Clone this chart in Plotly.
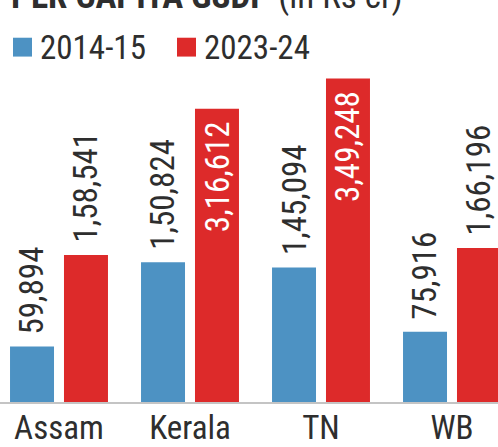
import plotly.graph_objects as go

categories = ["Assam", "Kerala", "TN", "WB"]
series_names = ["2014-15", "2023-24"]
values_2014_15 = [59894, 150824, 145094, 75916]
values_2023_24 = [158541, 316612, 349248, 166196]
label_2014_15 = ["59,894", "1,50,824", "1,45,094", "75,916"]
label_2023_24 = ["1,58,541", "3,16,612", "3,49,248", "1,66,196"]

title_bold = "PER CAPITA GSDP"
title_unit = "(in Rs cr)"

BLUE = "#4d92c3"
RED = "#dd2a2a"
TEXT = "#2e2e2e"
FONT = "Roboto Condensed, Liberation Sans Narrow, Roboto, sans-serif"

W, H = 498, 447
PLOT_BOTTOM = 405  # px
SLOT = 27  # px offset of each bar from group centre
GROUP = 131  # px between category centres
FIRST = 59  # px of first category centre

fig = go.Figure()
fig.add_trace(go.Bar(x=categories, y=values_2014_15, name=series_names[0],
                     marker=dict(color=BLUE, line=dict(width=0)), showlegend=False,
                     hoverinfo="skip"))
fig.add_trace(go.Bar(x=categories, y=values_2023_24, name=series_names[1],
                     marker=dict(color=RED, line=dict(width=0)), showlegend=False,
                     hoverinfo="skip"))

annotations = []
vmax = max(values_2023_24 + values_2014_15)
for series, labels, shift in ((values_2014_15, label_2014_15, -SLOT),
                              (values_2023_24, label_2023_24, SLOT)):
    for cat, v, lab in zip(categories, series, labels):
        inside = v > 0.8 * vmax
        annotations.append(dict(
            x=cat, y=v, xref="x", yref="y", text=lab, showarrow=False,
            textangle=-90, xshift=shift,
            yanchor="top" if inside else "bottom",
            yshift=-11 if inside else 10,
            font=dict(family=FONT, size=33, color="white" if inside else TEXT),
        ))

def py(p):
    """page y pixel -> paper coordinate"""
    return (PLOT_BOTTOM - p) / PLOT_BOTTOM

def px(p):
    return p / W

# title (cropped at top in the reference)
annotations.append(dict(
    x=px(9), y=py(-4), xref="paper", yref="paper",
    xanchor="left", yanchor="middle", showarrow=False,
    text=f"<b>{title_bold}</b> {title_unit}",
    font=dict(family=FONT, size=35, color=TEXT),
))

# legend built from shapes + labels
shapes = []
legend_x = [(13, 38), (177, 202)]
for (sx, tx), name, col in zip(legend_x, series_names, [BLUE, RED]):
    shapes.append(dict(type="rect", xref="paper", yref="paper",
                       x0=px(sx), x1=px(sx + 19),
                       y0=py(57), y1=py(38),
                       fillcolor=col, line=dict(width=0)))
    annotations.append(dict(
        x=px(tx), y=py(47.5), xref="paper", yref="paper",
        xanchor="left", yanchor="middle", showarrow=False, text=name,
        font=dict(family=FONT, size=33, color=TEXT),
    ))

px_per_unit = (PLOT_BOTTOM - 79) / max(values_2023_24)
ymax = PLOT_BOTTOM / px_per_unit
x0 = -FIRST / GROUP
x1 = (W - FIRST) / GROUP

fig.update_layout(
    width=W, height=H,
    margin=dict(l=0, r=0, t=0, b=H - PLOT_BOTTOM, pad=0),
    paper_bgcolor="white", plot_bgcolor="white",
    barmode="group", bargap=0.176, bargroupgap=0.185,
    xaxis=dict(range=[x0, x1], showgrid=False, zeroline=False,
               showline=True, linecolor="#c4c4c4", linewidth=2,
               ticks="", ticklabelstandoff=-5, fixedrange=True,
               tickfont=dict(family=FONT, size=33, color=TEXT)),
    yaxis=dict(range=[0, ymax], visible=False, showgrid=False, zeroline=False,
               fixedrange=True),
    annotations=annotations, shapes=shapes,
    showlegend=False, hovermode=False,
)

fig.write_html("out.html",
               config={"displayModeBar": False},
               post_script="document.body.style.margin='0';"
                           "document.body.style.overflow='hidden';")
